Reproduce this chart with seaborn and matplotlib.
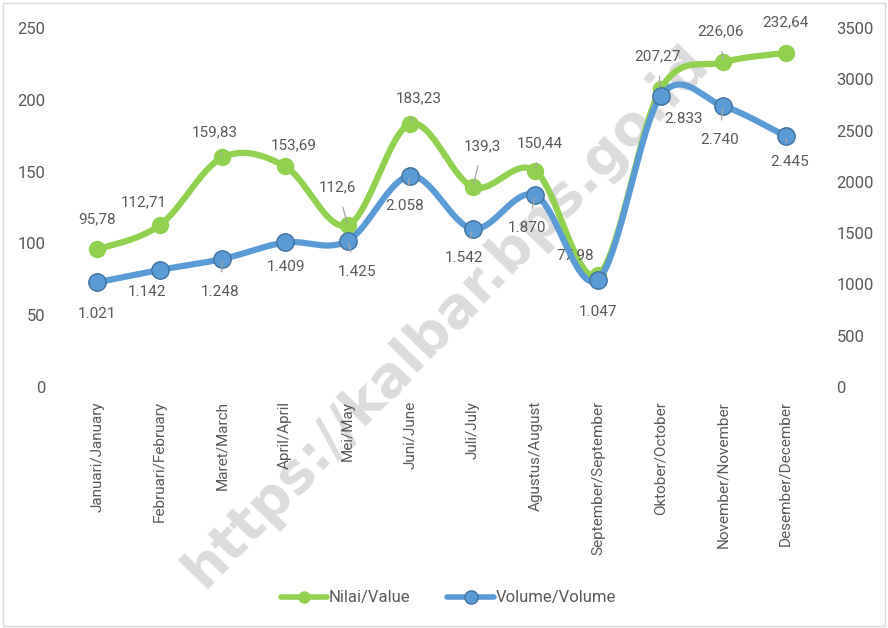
import matplotlib
matplotlib.use("Agg")
import matplotlib.pyplot as plt
import numpy as np
import pandas as pd
import seaborn as sns
from matplotlib.lines import Line2D
from matplotlib.patches import Rectangle

# ------------------------------------------------------------
# Data
# ------------------------------------------------------------
months = [
    "Januari/January", "Februari/February", "Maret/March", "April/April",
    "Mei/May", "Juni/June", "Juli/July", "Agustus/August",
    "September/September", "Oktober/October", "November/November",
    "Desember/December",
]
nilai = [95.78, 112.71, 159.83, 153.69, 112.6, 183.23, 139.3, 150.44,
         77.98, 207.27, 226.06, 232.64]
volume = [1021, 1142, 1248, 1409, 1425, 2058, 1542, 1870,
          1047, 2833, 2740, 2445]

left_ticks = [0, 50, 100, 150, 200, 250]
right_ticks = [0, 500, 1000, 1500, 2000, 2500, 3000, 3500]

# label offsets (pixels) and leader lines - styling only
nilai_off = [(0, 30), (-16, 23), (-8, 25), (9, 21), (-10, 38), (9, 26),
             (10, 41), (4, 28), (-23, 20), (-3, 33), (-3, 31), (0, 31)]
nilai_lead = [0, 0, 1, 0, 1, 1, 1, 1, 0, 1, 1, 0]
volume_off = [(0, -32), (-13, -22), (-2, -33), (1, -25), (9, -31), (-6, -30),
              (-9, -29), (-8, -33), (0, -32), (23, -23), (-4, -34), (4, -26)]
volume_lead = [0, 0, 1, 0, 1, 1, 1, 1, 0, 0, 1, 1]

GREEN = "#92D050"
BLUE = "#5B9BD5"
BLUE_EDGE = "#41719C"
TXT = "#595959"


def smooth(xs, ys, n=40):
    # Catmull-Rom through the points (like Excel's smoothed line)
    x = np.asarray(xs, float)
    y = np.asarray(ys, float)
    xp = np.concatenate([[x[0]], x, [x[-1]]])
    yp = np.concatenate([[y[0]], y, [y[-1]]])
    out_x, out_y = [], []
    t = np.linspace(0, 1, n)
    for i in range(1, len(xp) - 2):
        p0x, p1x, p2x, p3x = xp[i - 1], xp[i], xp[i + 1], xp[i + 2]
        p0y, p1y, p2y, p3y = yp[i - 1], yp[i], yp[i + 1], yp[i + 2]
        c1x, c1y = p1x + (p2x - p0x) / 6, p1y + (p2y - p0y) / 6
        c2x, c2y = p2x - (p3x - p1x) / 6, p2y - (p3y - p1y) / 6
        bx = (1 - t) ** 3 * p1x + 3 * (1 - t) ** 2 * t * c1x + 3 * (1 - t) * t ** 2 * c2x + t ** 3 * p2x
        by = (1 - t) ** 3 * p1y + 3 * (1 - t) ** 2 * t * c1y + 3 * (1 - t) * t ** 2 * c2y + t ** 3 * p2y
        out_x.extend(bx[:-1] if i < len(xp) - 3 else bx)
        out_y.extend(by[:-1] if i < len(xp) - 3 else by)
    return np.array(out_x), np.array(out_y)


df = pd.DataFrame({"pos": np.arange(len(months)), "month": months,
                   "nilai": nilai, "volume": volume})
sx, sy_n = smooth(df["pos"], df["nilai"])
_, sy_v = smooth(df["pos"], df["volume"])
curve = pd.DataFrame({"x": sx, "nilai": sy_n, "volume": sy_v})

sns.set_style("white")
plt.rcParams["font.family"] = ["Roboto", "DejaVu Sans"]

fig = plt.figure(figsize=(8.88, 6.28), dpi=100)
ax = fig.add_axes([66 / 888, 1 - 387 / 628, 751 / 888, 359 / 628])
ax2 = ax.twinx()

# watermark behind everything
fig.text(0.503, 0.495, "https://kalbar.bps.go.id", rotation=46, fontsize=40,
         fontweight="bold", color="#dcdcdc", ha="center", va="center",
         family="DejaVu Sans", zorder=0)
ax.set_zorder(1)
ax2.set_zorder(2)
ax.patch.set_visible(False)
ax2.patch.set_visible(False)

sns.lineplot(data=curve, x="x", y="nilai", ax=ax, color=GREEN, lw=4.5,
             sort=False, estimator=None)
ax.plot(df["pos"], df["nilai"], "o", color=GREEN, ms=11.5, zorder=3)

sns.lineplot(data=curve, x="x", y="volume", ax=ax2, color=BLUE, lw=4.5,
             sort=False, estimator=None)
ax2.plot(df["pos"], df["volume"], "o", color=BLUE, mec=BLUE_EDGE, mew=1.0,
         ms=12.5, zorder=3)

for i, v in enumerate(nilai):
    lbl = f"{v:g}".replace(".", ",")
    dx, dy = nilai_off[i]
    ax.annotate(lbl, (i, v), xytext=(dx, dy), textcoords="offset pixels",
                ha="center", va="center", fontsize=11, color=TXT, zorder=5,
                arrowprops=dict(arrowstyle="-", color="#a6a6a6", lw=0.9,
                                shrinkA=7, shrinkB=2) if nilai_lead[i] else None)

for i, v in enumerate(volume):
    lbl = f"{v:,}".replace(",", ".")
    dx, dy = volume_off[i]
    ax2.annotate(lbl, (i, v), xytext=(dx, dy), textcoords="offset pixels",
                 ha="center", va="center", fontsize=11, color=TXT, zorder=5,
                 arrowprops=dict(arrowstyle="-", color="#a6a6a6", lw=0.9,
                                 shrinkA=7, shrinkB=2) if volume_lead[i] else None)

ax.set_xlim(-0.5, len(months) - 0.5)
ax.set_ylim(0, 250)
ax2.set_ylim(0, 3500)
ax.set_xticks(df["pos"])
ax.set_xticklabels(months, rotation=90, fontsize=11, color=TXT)
ax.set_yticks(left_ticks)
ax.set_yticklabels([str(t) for t in left_ticks], fontsize=12, color=TXT)
ax2.set_yticks(right_ticks)
ax2.set_yticklabels([str(t) for t in right_ticks], fontsize=12, color=TXT)
ax.tick_params(axis="x", length=0, pad=10)
ax.tick_params(axis="y", length=0, pad=15)
ax2.tick_params(axis="y", length=0, pad=14)
ax.set_xlabel("")
ax.set_ylabel("")
ax2.set_ylabel("")
for a in (ax, ax2):
    for s in a.spines.values():
        s.set_visible(False)
    a.grid(False)

handles = [
    Line2D([], [], color=GREEN, lw=4, marker="o", ms=8),
    Line2D([], [], color=BLUE, lw=4, marker="o", ms=9.5, mec=BLUE_EDGE, mew=1.0),
]
fig.legend(handles, ["Nilai/Value", "Volume/Volume"], loc="center",
           bbox_to_anchor=(0.505, 0.048), ncol=2, frameon=False,
           fontsize=12, labelcolor=TXT, handlelength=2.8, handletextpad=0.1,
           columnspacing=2.2)

fig.patches.append(Rectangle((0.003, 0.003), 0.994, 0.992, transform=fig.transFigure,
                             fill=False, edgecolor="#d9d9d9", lw=1.0))

fig.savefig("out.png", dpi=100)
